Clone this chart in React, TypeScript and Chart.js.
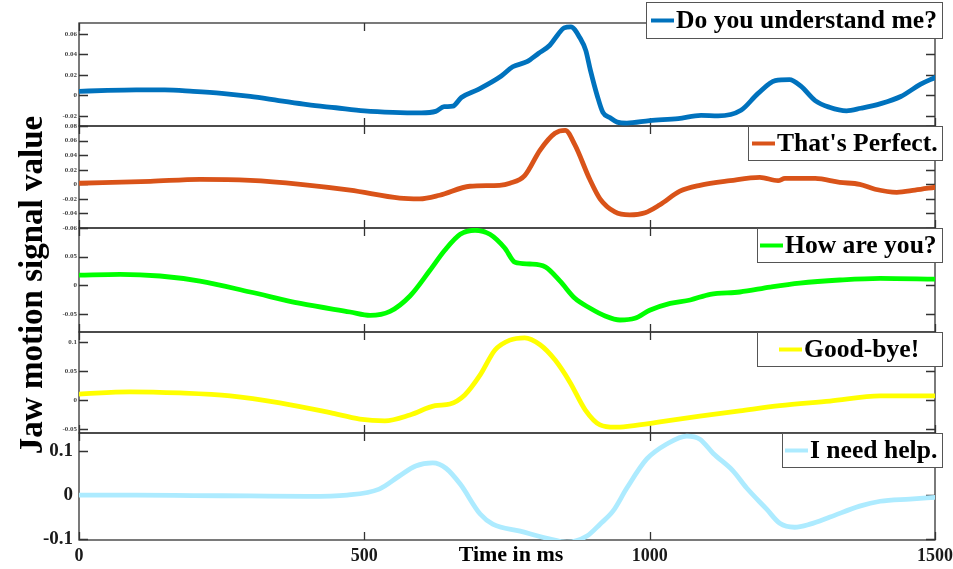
import React, { useEffect, useRef } from 'react';
import { Chart, registerables } from 'chart.js';

Chart.register(...registerables);

// ---------- data ----------
const xTickValues = [0, 500, 1000, 1500];
const seriesLabels = ['Do you understand me?', "That's Perfect.", 'How are you?', 'Good-bye!', 'I need help.'];
const seriesColors = ['#0072BD', '#D95319', '#00FF00', '#FFFF00', '#ADEBFF'];

const p1Time = [0, 50, 100, 150, 200, 250, 300, 350, 400, 450, 500, 550, 600, 625, 640, 655, 670, 700, 740, 760, 785, 805, 825, 840, 850, 862, 878, 888, 896, 908, 918, 930, 943, 960, 1000, 1050, 1090, 1120, 1160, 1190, 1220, 1245, 1265, 1290, 1315, 1345, 1370, 1405, 1440, 1475, 1500];
const p1Value = [0.004, 0.005, 0.0055, 0.0055, 0.004, 0.002, -0.001, -0.005, -0.009, -0.012, -0.015, -0.0165, -0.017, -0.0155, -0.011, -0.0105, -0.002, 0.006, 0.019, 0.028, 0.033, 0.041, 0.049, 0.06, 0.066, 0.067, 0.056, 0.044, 0.025, 0.0, -0.0165, -0.0215, -0.026, -0.027, -0.0245, -0.0225, -0.0195, -0.02, -0.0145, 0.002, 0.0145, 0.0155, 0.009, -0.005, -0.0115, -0.015, -0.0125, -0.008, -0.001, 0.011, 0.0175];

const p2Time = [0, 125, 212, 300, 388, 475, 562, 597, 632, 685, 737, 755, 781, 808, 834, 852, 869, 895, 913, 939, 965, 992, 1018, 1053, 1088, 1141, 1193, 1225, 1237, 1290, 1333, 1368, 1395, 1433, 1465, 1500];
const p2Value = [0.0014, 0.004, 0.0068, 0.0054, 0.0, -0.008, -0.019, -0.02, -0.015, -0.0027, -0.0014, 0.0014, 0.012, 0.047, 0.07, 0.074, 0.054, 0.0068, -0.02, -0.038, -0.042, -0.039, -0.028, -0.0095, -0.0014, 0.005, 0.0095, 0.005, 0.008, 0.008, 0.0027, 0.0, -0.0068, -0.011, -0.008, -0.004];

const p3Time = [0, 72, 142, 212, 300, 388, 475, 510, 545, 580, 615, 641, 668, 694, 720, 746, 764, 790, 817, 843, 869, 895, 922, 948, 974, 1000, 1036, 1071, 1106, 1158, 1211, 1263, 1333, 1404, 1500];
const p3Value = [0.0175, 0.019, 0.016, 0.007, -0.012, -0.032, -0.047, -0.053, -0.046, -0.019, 0.026, 0.061, 0.089, 0.096, 0.089, 0.065, 0.04, 0.037, 0.032, 0.007, -0.023, -0.04, -0.054, -0.061, -0.058, -0.044, -0.032, -0.026, -0.016, -0.012, -0.0035, 0.0035, 0.009, 0.012, 0.0105];

const p4Time = [0, 89, 177, 265, 352, 440, 492, 536, 580, 624, 650, 676, 703, 729, 755, 781, 808, 834, 860, 887, 913, 939, 965, 1018, 1088, 1158, 1228, 1316, 1404, 1500];
const p4Value = [0.01, 0.014, 0.012, 0.007, -0.005, -0.022, -0.033, -0.036, -0.026, -0.01, -0.007, 0.0086, 0.043, 0.086, 0.103, 0.107, 0.095, 0.069, 0.031, -0.017, -0.043, -0.047, -0.045, -0.038, -0.028, -0.019, -0.01, -0.002, 0.007, 0.007];

const p5Time = [0, 100, 200, 300, 400, 470, 526, 561, 590, 620, 643, 668, 703, 725, 773, 820, 855, 890, 913, 936, 960, 995, 1030, 1065, 1088, 1111, 1146, 1170, 1205, 1228, 1254, 1281, 1316, 1368, 1404, 1456, 1500];
const p5Value = [0.0, 0.0, -0.001, -0.002, -0.003, 0.0, 0.0136, 0.043, 0.066, 0.073, 0.061, 0.025, -0.043, -0.066, -0.082, -0.098, -0.107, -0.093, -0.066, -0.036, 0.016, 0.082, 0.116, 0.134, 0.127, 0.095, 0.055, 0.016, -0.032, -0.064, -0.073, -0.066, -0.05, -0.025, -0.014, -0.009, -0.005];

const p1Ticks = [-0.02, 0, 0.02, 0.04, 0.06];
const p2Ticks = [-0.06, -0.04, -0.02, 0, 0.02, 0.04, 0.06, 0.08];
const p3Ticks = [-0.05, 0, 0.05];
const p4Ticks = [-0.05, 0, 0.05, 0.1];
const p5Ticks = [-0.1, 0, 0.1];

const p1Range = [-0.0298, 0.0707];
const p2Range = [-0.06, 0.08];
const p3Range = [-0.082, 0.1];
const p4Range = [-0.057, 0.117];
const p5Range = [-0.102, 0.141];

const xTitle = 'Time in ms';
const yTitle = 'Jaw motion signal value';

// ---------- layout / style ----------
const FONT = '"Liberation Serif", "Times New Roman", serif';
const panelWeights = [103, 102, 104, 101, 107];
const legendWidths = [297, 195, 186, 186, 161];
const legendPads = [5, 4, 3, 22, 3];
const AXIS_COLOR = '#333333';

const panels = [
  { t: p1Time, v: p1Value, ticks: p1Ticks, range: p1Range },
  { t: p2Time, v: p2Value, ticks: p2Ticks, range: p2Range },
  { t: p3Time, v: p3Value, ticks: p3Ticks, range: p3Range },
  { t: p4Time, v: p4Value, ticks: p4Ticks, range: p4Range },
  { t: p5Time, v: p5Value, ticks: p5Ticks, range: p5Range },
];

const framePlugin = {
  id: 'matlabFrame',
  beforeDatasetsDraw(chart: any) {
    const ctx = chart.ctx;
    const area = chart.chartArea;
    const xs = chart.scales.x;
    ctx.save();
    ctx.strokeStyle = AXIS_COLOR;
    ctx.lineWidth = 1.3;
    panels.forEach((p, i) => {
      const s = chart.scales['y' + i];
      ctx.strokeRect(area.left, s.top, area.right - area.left, s.bottom - s.top);
      ctx.beginPath();
      p.ticks.forEach((v) => {
        const y = Math.round(s.getPixelForValue(v)) + 0.5;
        ctx.moveTo(area.left, y);
        ctx.lineTo(area.left + 9, y);
        ctx.moveTo(area.right, y);
        ctx.lineTo(area.right - 9, y);
      });
      xTickValues.forEach((v) => {
        const x = Math.round(xs.getPixelForValue(v)) + 0.5;
        ctx.moveTo(x, s.bottom);
        ctx.lineTo(x, s.bottom - 8);
        ctx.moveTo(x, s.top);
        ctx.lineTo(x, s.top + 8);
      });
      ctx.stroke();
    });
    ctx.restore();
  },
  afterDatasetsDraw(chart: any) {
    const ctx = chart.ctx;
    ctx.save();
    panels.forEach((p, i) => {
      const s = chart.scales['y' + i];
      const right = 943;
      const w = legendWidths[i];
      const left = right - w;
      const top = i === 0 ? s.top - 21 : s.top;
      const h = i === 0 ? 37 : 35;
      ctx.fillStyle = '#ffffff';
      ctx.fillRect(left, top, w, h);
      ctx.strokeStyle = '#555555';
      ctx.lineWidth = 1;
      ctx.strokeRect(left + 0.5, top + 0.5, w - 1, h - 1);
      const cy = top + h / 2;
      const lx = left + legendPads[i];
      ctx.strokeStyle = seriesColors[i];
      ctx.lineWidth = 4;
      ctx.beginPath();
      ctx.moveTo(lx, cy);
      ctx.lineTo(lx + 23, cy);
      ctx.stroke();
      ctx.fillStyle = '#000000';
      ctx.font = 'bold 25.6px ' + FONT;
      ctx.textAlign = 'left';
      ctx.textBaseline = 'middle';
      ctx.fillText(seriesLabels[i], lx + 25, cy + 1);
    });
    ctx.restore();
  },
  afterDraw(chart: any) {
    const ctx = chart.ctx;
    ctx.save();
    ctx.fillStyle = '#000000';
    ctx.textAlign = 'center';
    ctx.textBaseline = 'middle';
    ctx.font = 'bold 22px ' + FONT;
    ctx.fillText(xTitle, 511, 555);
    ctx.translate(33, 285);
    ctx.rotate(-Math.PI / 2);
    ctx.font = 'bold 33px ' + FONT;
    ctx.fillText(yTitle, 0, 0);
    ctx.restore();
  },
};

export default function App() {
  const ref = useRef<HTMLCanvasElement>(null);
  useEffect(() => {
    if (!ref.current) return;
    const scales: any = {
      x: {
        type: 'linear',
        position: 'bottom',
        min: 0,
        max: 1500,
        grid: { display: false, drawTicks: false },
        border: { display: false },
        afterBuildTicks: (s: any) => {
          s.ticks = xTickValues.map((v) => ({ value: v }));
        },
        afterFit: (s: any) => {
          s.height = 29;
          s.paddingLeft = 0;
          s.paddingRight = 0;
        },
        ticks: {
          autoSkip: false,
          maxRotation: 0,
          padding: 6,
          color: '#1a1a1a',
          font: { family: FONT, size: 18, weight: 'bold' },
          callback: (v: any) => String(v),
        },
      },
    };
    panels.forEach((p, i) => {
      const big = i === 4;
      scales['y' + i] = {
        type: 'linear',
        position: 'left',
        stack: 'panels',
        stackWeight: panelWeights[i],
        weight: 10 - i,
        min: p.range[0],
        max: p.range[1],
        grid: { display: false, drawTicks: false },
        border: { display: false },
        afterBuildTicks: (s: any) => {
          s.ticks = p.ticks.map((v) => ({ value: v }));
        },
        afterFit: (s: any) => {
          s.width = 79;
          s.paddingTop = 0;
          s.paddingBottom = 0;
        },
        ticks: {
          autoSkip: false,
          padding: big ? 6 : 2,
          color: big ? '#1a1a1a' : '#444444',
          font: { family: FONT, size: big ? 19 : 7, weight: 'bold' },
          callback: (v: any) => String(v),
        },
      };
    });
    const chart = new Chart(ref.current, {
      type: 'line',
      data: {
        datasets: panels.map((p, i) => ({
          label: seriesLabels[i],
          data: p.t.map((t, k) => ({ x: t, y: p.v[k] })),
          yAxisID: 'y' + i,
          borderColor: seriesColors[i],
          backgroundColor: seriesColors[i],
          borderWidth: 4.8,
          pointRadius: 0,
          fill: false,
          cubicInterpolationMode: 'monotone' as const,
          borderCapStyle: 'round' as const,
          borderJoinStyle: 'round' as const,
        })),
      },
      options: {
        responsive: false,
        animation: false,
        devicePixelRatio: 1,
        layout: { padding: { top: 23, right: 18, left: 0, bottom: 0 } },
        plugins: { legend: { display: false }, tooltip: { enabled: false } },
        scales,
      },
      plugins: [framePlugin],
    });
    return () => chart.destroy();
  }, []);
  return (
    <div style={{ position: 'absolute', left: 0, top: 0, width: 953, height: 569, background: '#fff' }}>
      <canvas ref={ref} width={953} height={569} style={{ width: 953, height: 569 }} />
    </div>
  );
}
